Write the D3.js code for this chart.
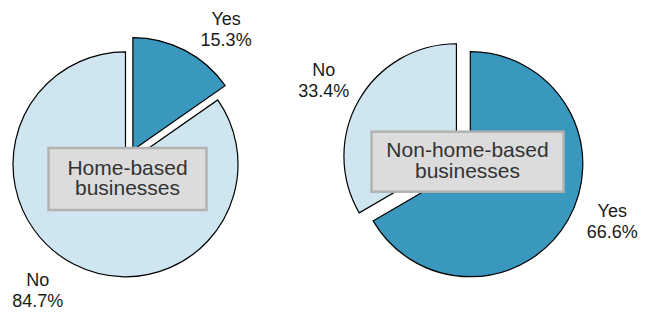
<!DOCTYPE html>
<html lang="en">
<meta charset="UTF-8">
<title>Home-based vs non-home-based businesses</title>
<style>
body {margin: 0; background: #fff;}
text {font-family: "Liberation Sans", Arial, sans-serif;}
</style>
<script src="https://d3js.org/d3.v7.min.js"></script>
<body>
<div id="chart"></div>
<script>

// data
var categories = ["Yes", "No"];
var homeBased = [15.3, 84.7];
var nonHomeBased = [66.6, 33.4];
var titles = [["Home-based", "businesses"], ["Non-home-based", "businesses"]];

var colors = {"Yes": "#3a97bd", "No": "#cfe6f1"};

// layout of each pie (centre, caption box, label nudges in degrees)
var layout = [
  {values: homeBased, cx: 125.5, cy: 164.3, boxX: 127.5, boxY: 179, boxW: 158, boxH: 62, nudge: [10, 7.5]},
  {values: nonHomeBased, cx: 470.3, cy: 164.2, boxX: 467.5, boxY: 161.7, boxW: 192, boxH: 60, nudge: [-8, 0]}
];

var width = 652, height = 312,
    radius = 112.5,
    explode = 16,
    labelDist = 153;

var svg = d3.select("#chart")
  .append("svg")
    .attr("width", width)
    .attr("height", height);

var pie = d3.pie().sort(null).value(function(d) { return d.value; });
var arc = d3.arc().innerRadius(0).outerRadius(radius);

layout.forEach(function(c, ci) {
  var data = categories.map(function(k, i) { return {key: k, value: c.values[i]}; });
  var arcs = pie(data);
  var minVal = d3.min(c.values);

  var g = svg.append("g")
      .attr("transform", "translate(" + c.cx + "," + c.cy + ")");

  arcs.forEach(function(a, i) {
    var mid = (a.startAngle + a.endAngle) / 2;
    var off = a.data.value === minVal ? explode : 0;
    var ox = off * Math.sin(mid), oy = -off * Math.cos(mid);

    g.append("path")
      .attr("d", arc(a))
      .attr("transform", "translate(" + ox + "," + oy + ")")
      .style("fill", colors[a.data.key])
      .style("stroke", "#000")
      .style("stroke-width", 1.2);

    // label: two centred lines
    var la = mid + c.nudge[i] * Math.PI / 180;
    var lx = ox + labelDist * Math.sin(la),
        ly = oy - labelDist * Math.cos(la);
    var t = g.append("text")
      .attr("text-anchor", "middle")
      .style("font-size", "18px")
      .style("fill", "#1a1a1a");
    t.append("tspan").attr("x", lx).attr("y", ly - 4).text(a.data.key);
    t.append("tspan").attr("x", lx).attr("y", ly + 17).text(a.data.value.toFixed(1) + "%");
  });

  // caption box
  svg.append("rect")
    .attr("x", c.boxX - c.boxW / 2)
    .attr("y", c.boxY - c.boxH / 2)
    .attr("width", c.boxW)
    .attr("height", c.boxH)
    .style("fill", "#dcdcdc")
    .style("stroke", "#b2b2b2")
    .style("stroke-width", 2.5);

  var bt = svg.append("text")
    .attr("text-anchor", "middle")
    .style("font-size", "21px")
    .style("fill", "#333");
  bt.append("tspan").attr("x", c.boxX).attr("y", c.boxY - 4.5).text(titles[ci][0]);
  bt.append("tspan").attr("x", c.boxX).attr("y", c.boxY + 16).text(titles[ci][1]);
});

</script>
</body>
</html>
